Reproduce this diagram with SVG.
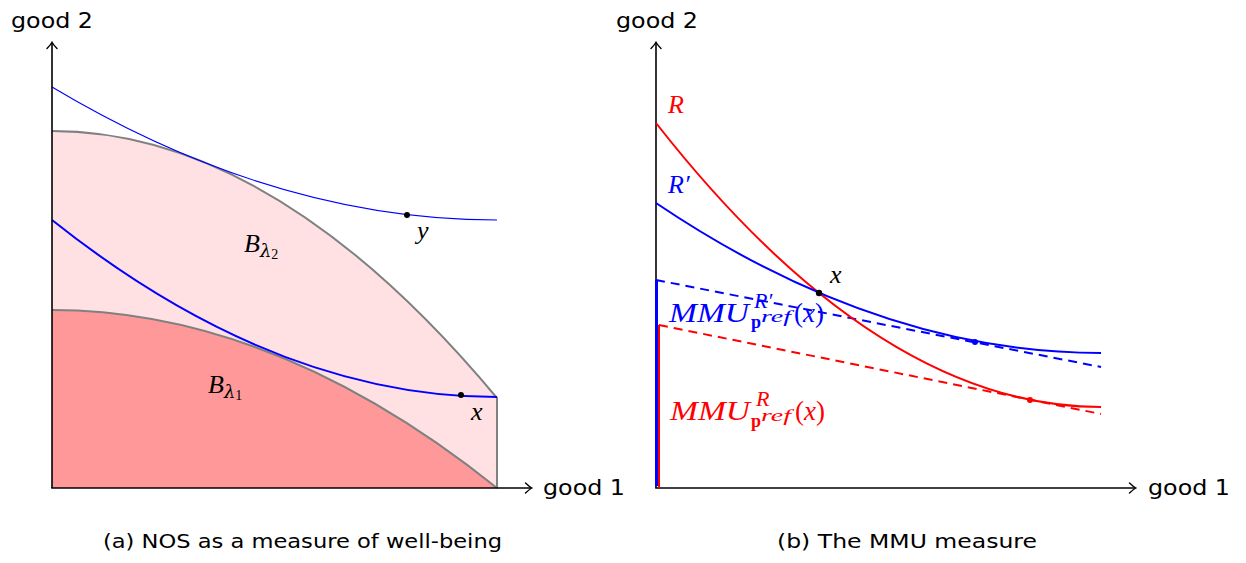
<svg xmlns="http://www.w3.org/2000/svg" width="1246" height="563" viewBox="0 0 1246 563">
<defs>
<marker id="arr" viewBox="-7 -6 9 12" markerWidth="9" markerHeight="12" refX="0" refY="0" orient="auto" markerUnits="userSpaceOnUse">
<path d="M-5.5,-5 Q-1.5,-1.2 0.8,0 Q-1.5,1.2 -5.5,5" fill="none" stroke="#000" stroke-width="1.4" stroke-linecap="round"/>
</marker>
</defs>
<style>
.ax{stroke:#000;stroke-width:1.6;fill:none}
.sans{font-family:"DejaVu Sans","Liberation Sans",sans-serif;fill:#000}
.m{font-family:"Liberation Serif","DejaVu Serif",serif;font-style:italic}
.up{font-family:"Liberation Serif","DejaVu Serif",serif;font-style:normal}
.bd{font-family:"Liberation Serif","DejaVu Serif",serif;font-weight:bold;font-style:normal}
.gray{stroke:#808080;stroke-width:2;fill:none}
.dot{fill:#000}
</style>
<rect width="1246" height="563" fill="#fff"/>

<!-- Panel (a) -->
<g id="panel-a">
<g id="B-lambda2">
<path d="M52,131 Q274.5,131 497,398 L497,488 L52,488 Z" fill="#ffe1e4"/>
<path d="M52,131 Q274.5,131 497,398 L497,488" class="gray"/>
<text class="m" x="244" y="252" font-size="26" fill="#000">B<tspan font-family="DejaVu Serif,serif" font-size="18" dy="5">λ</tspan><tspan class="up" font-size="14" dy="2">2</tspan></text>
</g>
<g id="B-lambda1">
<path d="M52,310 Q274.5,310 497,488 L52,488 Z" fill="#ff9999"/>
<path d="M52,310 Q274.5,310 497,488" class="gray"/>
<text class="m" x="208" y="393" font-size="26" fill="#000">B<tspan font-family="DejaVu Serif,serif" font-size="18" dy="5">λ</tspan><tspan class="up" font-size="14" dy="2">1</tspan></text>
</g>
<g id="indiff-y">
<path d="M52,87 Q274.5,220 497,220" fill="none" stroke="#0000ff" stroke-width="1.1"/>
<circle class="dot" cx="407" cy="215" r="3"/>
<text class="m" x="417" y="239" font-size="26" fill="#000">y</text>
</g>
<g id="indiff-x">
<path d="M52,220 Q274.5,397 497,397" fill="none" stroke="#0000ff" stroke-width="2"/>
<circle class="dot" cx="461" cy="395" r="3"/>
<text class="m" x="471" y="420" font-size="26" fill="#000">x</text>
</g>
<g id="axes-a">
<path class="ax" d="M52,488 V43" marker-end="url(#arr)"/>
<path class="ax" d="M51.2,488 H531" marker-end="url(#arr)"/>
<text class="sans" x="11" y="28" font-size="22" textLength="82" lengthAdjust="spacingAndGlyphs">good 2</text>
<text class="sans" x="543" y="495" font-size="22" textLength="82" lengthAdjust="spacingAndGlyphs">good 1</text>
</g>
<text class="sans" x="103" y="548" font-size="19" textLength="399" lengthAdjust="spacingAndGlyphs">(a) NOS as a measure of well-being</text>
</g>

<!-- Panel (b) -->
<g id="panel-b">
<g id="axes-b">
<path class="ax" d="M656,488 V43" marker-end="url(#arr)"/>
<path class="ax" d="M655.2,488 H1135" marker-end="url(#arr)"/>
<text class="sans" x="616" y="28" font-size="22" textLength="82" lengthAdjust="spacingAndGlyphs">good 2</text>
<text class="sans" x="1148" y="495" font-size="22" textLength="82" lengthAdjust="spacingAndGlyphs">good 1</text>
</g>
<g id="connectors">
<path d="M656.5,280 V486" stroke="#0000ff" stroke-width="3" fill="none"/>
<path d="M659,325 V488" stroke="#ff0000" stroke-width="2" fill="none"/>
<path d="M656,280 L1101,367" stroke="#0000ff" stroke-width="2" stroke-dasharray="9,6" fill="none"/>
<path d="M659,325 L1101,414" stroke="#ff0000" stroke-width="2" stroke-dasharray="9,6" fill="none"/>
</g>
<g id="R-curve">
<path d="M656,123 Q878.5,407 1101,407" fill="none" stroke="#ff0000" stroke-width="2"/>
<circle cx="1030" cy="400" r="3" fill="#ff0000"/>
<text class="m" x="668" y="113" font-size="26" fill="#ff0000">R</text>
</g>
<g id="Rprime-curve">
<path d="M656,203 Q878.5,353 1101,353" fill="none" stroke="#0000ff" stroke-width="2"/>
<circle cx="975" cy="342" r="3" fill="#0000ff"/>
<text class="m" x="668" y="193" font-size="26" fill="#0000ff">R′</text>
</g>
<g id="point-x">
<circle class="dot" cx="819" cy="293" r="3.2"/>
<text class="m" x="830" y="283" font-size="26" fill="#000">x</text>
</g>
<g id="label-MMU-Rprime" fill="#0000ff">
<text class="m" x="669" y="322" font-size="27" textLength="80" lengthAdjust="spacingAndGlyphs">MMU</text>
<text class="m" x="754" y="308" font-size="22">R′</text>
<text class="bd" x="751" y="328" font-size="18">p</text>
<text class="m" x="761" y="322" font-size="16" textLength="30" lengthAdjust="spacingAndGlyphs">ref</text>
<text class="up" x="794" y="322" font-size="27">(<tspan class="m">x</tspan>)</text>
</g>
<g id="label-MMU-R" fill="#ff0000">
<text class="m" x="670" y="420" font-size="27" textLength="80" lengthAdjust="spacingAndGlyphs">MMU</text>
<text class="m" x="756" y="406" font-size="22">R</text>
<text class="bd" x="751" y="427" font-size="18">p</text>
<text class="m" x="761" y="421" font-size="16" textLength="30" lengthAdjust="spacingAndGlyphs">ref</text>
<text class="up" x="795" y="420" font-size="27">(<tspan class="m">x</tspan>)</text>
</g>
<text class="sans" x="777" y="548" font-size="19" textLength="260" lengthAdjust="spacingAndGlyphs">(b) The MMU measure</text>
</g>
</svg>
